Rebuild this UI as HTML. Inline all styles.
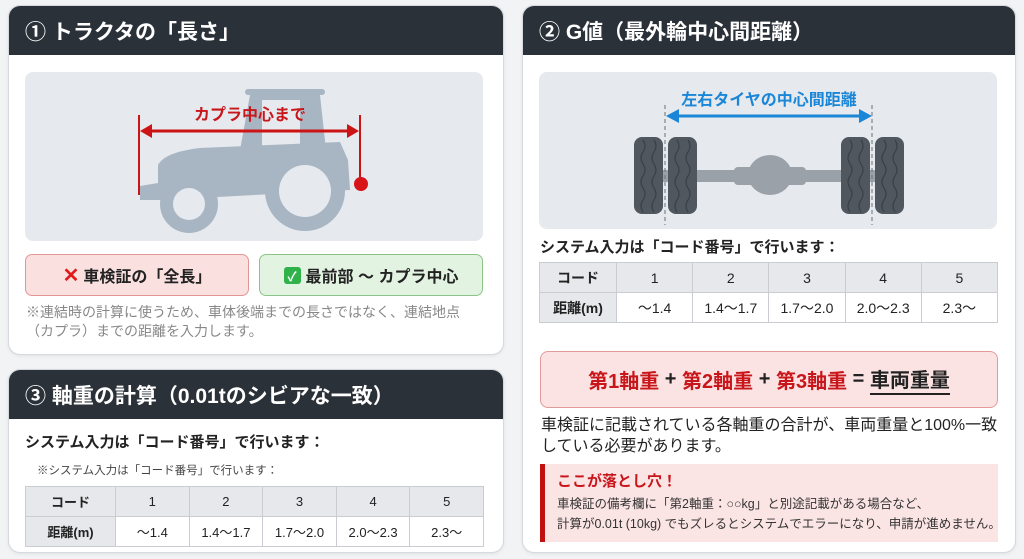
<!DOCTYPE html>
<html><head><meta charset="utf-8"><style>
*{margin:0;padding:0;box-sizing:border-box}
body{width:1024px;height:559px;background:#f2f3f5;position:relative;overflow:hidden;font-family:"Liberation Sans","Noto Sans CJK JP",sans-serif;color:#222}
.a{position:absolute}
.panel{position:absolute;background:#fff;border:1px solid #d6d9de;border-radius:12px;overflow:hidden;box-shadow:0 1px 3px rgba(0,0,0,.08)}
.hd{position:absolute;left:0;right:0;top:0;background:#2b3138;color:#fff;font-weight:bold;font-size:21px;padding-left:16px;display:flex;align-items:center}
table{border-collapse:collapse;position:absolute;font-size:14px;table-layout:fixed}
td{border:1px solid #c9ccd1;text-align:center;height:30px;white-space:nowrap}
tr:first-child td{background:#e6e8eb}
td:first-child{background:#e6e8eb;font-weight:bold}
</style></head><body>

<!-- Panel 1 -->
<div class="panel" style="left:8px;top:5px;width:496px;height:350px">
 <div class="hd" style="height:49px">① トラクタの「長さ」</div>
</div>
<div class="a" style="left:25px;top:72px;width:458px;height:169px;background:#e6e9ed;border-radius:8px"></div>
<svg class="a" style="left:0;top:0" width="512" height="260">
 <g fill="#a8b6c4">
  <rect x="245" y="89" width="80" height="6" rx="3"/>
  <path d="M250 95 L320 95 L326 150 L300 150 L300 100 L262 100 L262 150 L240 150 Z"/>
  <path d="M158 165 Q165 152 200 148 L340 142 L348 160 L350 190 L160 200 L140 200 L140 186 L158 183 Z"/>
  <circle cx="305" cy="191" r="40"/>
  <circle cx="189" cy="204" r="29"/>
 </g>
 <circle cx="305" cy="191" r="26" fill="#e6e9ed"/><circle cx="189" cy="204" r="16" fill="#e6e9ed"/>
 <g stroke="#cc1414" stroke-width="2" fill="#cc1414">
  <line x1="139" y1="115" x2="139" y2="195"/>
  <line x1="360" y1="115" x2="360" y2="183"/>
  <line x1="148" y1="131" x2="352" y2="131" stroke-width="3"/>
  <path d="M140 131 L152 124 L152 138 Z" stroke="none"/>
  <path d="M359 131 L347 124 L347 138 Z" stroke="none"/>
 </g>
 <circle cx="361" cy="184" r="7" fill="#d7141a"/>
 <text x="250" y="120" text-anchor="middle" font-size="16" font-weight="bold" fill="#c8161b" font-family="Liberation Sans, Noto Sans CJK JP, sans-serif">カプラ中心まで</text>
</svg>
<div class="a" style="left:25px;top:254px;width:224px;height:42px;background:#fbe0e0;border:1px solid #e29595;border-radius:7px;font-size:16px;font-weight:bold;display:flex;align-items:center;justify-content:center"><span style="color:#e01b1b;font-size:20px;margin-right:4px">✕</span>車検証の「全長」</div>
<div class="a" style="left:259px;top:254px;width:224px;height:42px;background:#e3f3e1;border:1px solid #8cc488;border-radius:7px;font-size:16px;font-weight:bold;display:flex;align-items:center;justify-content:center"><span style="background:#2fb24a;color:#fff;font-size:13px;width:17px;height:17px;border-radius:3px;display:inline-flex;align-items:center;justify-content:center;margin-right:5px">✓</span>最前部 ～ カプラ中心</div>
<div class="a" style="left:26px;top:303px;width:480px;font-size:14px;line-height:19px;color:#888;white-space:nowrap">※連結時の計算に使うため、車体後端までの長さではなく、連結地点<br>（カプラ）までの距離を入力します。</div>

<!-- Panel 3 -->
<div class="panel" style="left:8px;top:369px;width:496px;height:184px">
 <div class="hd" style="height:49px">③ 軸重の計算（0.01tのシビアな一致）</div>
</div>
<div class="a" style="left:25px;top:431px;font-size:15px;font-weight:bold">システム入力は「コード番号」で行います：</div>
<div class="a" style="left:37px;top:462px;font-size:11.5px;color:#444">※システム入力は「コード番号」で行います：</div>
<table style="left:25px;top:486px;width:459px;font-size:13px">
<col style="width:90px"><col><col><col><col><col>
<tr><td style="height:27px">コード</td><td>1</td><td>2</td><td>3</td><td>4</td><td>5</td></tr>
<tr><td style="height:27px">距離(m)</td><td>～1.4</td><td>1.4～1.7</td><td>1.7～2.0</td><td>2.0～2.3</td><td>2.3～</td></tr>
</table>

<!-- Panel 2 -->
<div class="panel" style="left:522px;top:5px;width:494px;height:548px">
 <div class="hd" style="height:49px">② G値（最外輪中心間距離）</div>
</div>
<div class="a" style="left:539px;top:72px;width:458px;height:157px;background:#e6e9ed;border-radius:8px"></div>
<svg class="a" style="left:512px;top:60px" width="512" height="180">
 <rect x="140" y="110" width="240" height="12" fill="#9aa1a8"/>
 <ellipse cx="258" cy="115" rx="22" ry="20" fill="#9aa1a8"/>
 <rect x="222" y="107" width="72" height="18" rx="4" fill="#9aa1a8"/>
 <g fill="#51575e">
  <rect x="122" y="77" width="29" height="77" rx="8"/>
  <rect x="156" y="77" width="29" height="77" rx="8"/>
  <rect x="329" y="77" width="29" height="77" rx="8"/>
  <rect x="363" y="77" width="29" height="77" rx="8"/>
 </g>
 <g stroke="#3b4047" stroke-width="1.2" fill="none">
  <path d="M131 80 q4 6 0 12 q-4 6 0 12 q4 6 0 12 q-4 6 0 12 q4 6 0 12 q-4 6 0 12"/>
  <path d="M142 80 q4 6 0 12 q-4 6 0 12 q4 6 0 12 q-4 6 0 12 q4 6 0 12 q-4 6 0 12"/>
  <path d="M165 80 q4 6 0 12 q-4 6 0 12 q4 6 0 12 q-4 6 0 12 q4 6 0 12 q-4 6 0 12"/>
  <path d="M176 80 q4 6 0 12 q-4 6 0 12 q4 6 0 12 q-4 6 0 12 q4 6 0 12 q-4 6 0 12"/>
  <path d="M338 80 q4 6 0 12 q-4 6 0 12 q4 6 0 12 q-4 6 0 12 q4 6 0 12 q-4 6 0 12"/>
  <path d="M349 80 q4 6 0 12 q-4 6 0 12 q4 6 0 12 q-4 6 0 12 q4 6 0 12 q-4 6 0 12"/>
  <path d="M372 80 q4 6 0 12 q-4 6 0 12 q4 6 0 12 q-4 6 0 12 q4 6 0 12 q-4 6 0 12"/>
  <path d="M383 80 q4 6 0 12 q-4 6 0 12 q4 6 0 12 q-4 6 0 12 q4 6 0 12 q-4 6 0 12"/>
 </g>
 <g stroke="#6b7178" stroke-width="1" stroke-dasharray="4,3">
  <line x1="153" y1="45" x2="153" y2="165"/><line x1="360" y1="45" x2="360" y2="165"/>
 </g>
 <g fill="#1a86d8" stroke="#1a86d8">
  <line x1="164" y1="56" x2="350" y2="56" stroke-width="3"/>
  <path d="M154 56 L167 49 L167 63 Z" stroke="none"/>
  <path d="M360 56 L347 49 L347 63 Z" stroke="none"/>
 </g>
 <text x="257" y="45" text-anchor="middle" font-size="16" font-weight="bold" fill="#1a86d8" font-family="Liberation Sans, Noto Sans CJK JP, sans-serif">左右タイヤの中心間距離</text>
</svg>
<div class="a" style="left:540px;top:236px;font-size:15px;font-weight:bold">システム入力は「コード番号」で行います：</div>
<table style="left:539px;top:262px;width:459px">
<col style="width:77px"><col><col><col><col><col>
<tr><td>コード</td><td>1</td><td>2</td><td>3</td><td>4</td><td>5</td></tr>
<tr><td>距離(m)</td><td>～1.4</td><td>1.4～1.7</td><td>1.7～2.0</td><td>2.0～2.3</td><td>2.3～</td></tr>
</table>
<div class="a" style="left:540px;top:351px;width:458px;height:57px;background:#fbe3e3;border:1px solid #e39a9a;border-radius:8px;display:flex;align-items:center;justify-content:center;font-size:20px;font-weight:bold;color:#222"><span style="color:#c8161b">第1軸重</span>&nbsp;+&nbsp;<span style="color:#c8161b">第2軸重</span>&nbsp;+&nbsp;<span style="color:#c8161b">第3軸重</span>&nbsp;=&nbsp;<span style="border-bottom:2.5px solid #222">車両重量</span></div>
<div class="a" style="left:541px;top:415px;width:480px;font-size:16px;line-height:21px;white-space:nowrap">車検証に記載されている各軸重の合計が、車両重量と100%一致<br>している必要があります。</div>
<div class="a" style="left:540px;top:464px;width:458px;height:78px;background:#fbe4e4;border-left:5px solid #c01010"></div>
<div class="a" style="left:557px;top:470px;font-size:15px;font-weight:bold;color:#c8161b">ここが落とし穴！</div>
<div class="a" style="left:557px;top:494px;width:460px;font-size:12.5px;line-height:20px;color:#333;white-space:nowrap">車検証の備考欄に「第2軸重：○○kg」と別途記載がある場合など、<br>計算が0.01t (10kg) でもズレるとシステムでエラーになり、申請が進めません。</div>
</body></html>
